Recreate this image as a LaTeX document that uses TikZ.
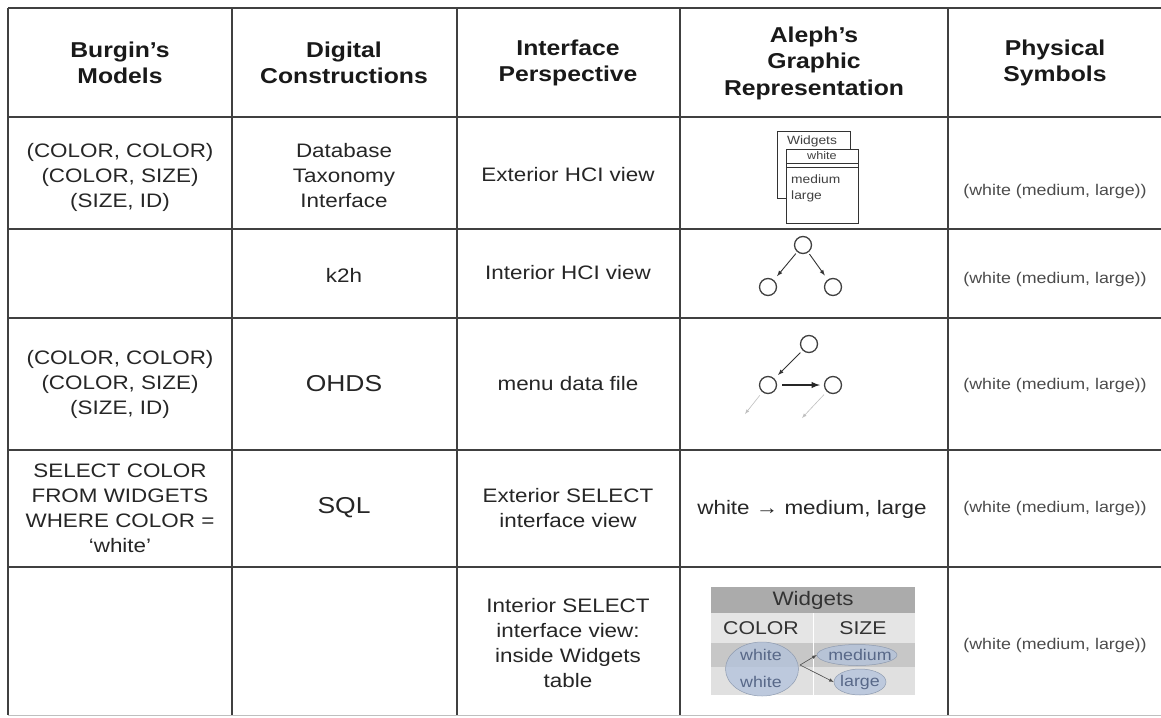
\documentclass[tikz,border=0pt]{standalone}
\usepackage{fontspec}
\setmainfont{Liberation Sans}[FakeStretch=1.15]
\usetikzlibrary{positioning, arrows, shapes.geometric}
\definecolor{blobfill}{RGB}{178,194,220}
\definecolor{blobtext}{RGB}{88,104,136}

\begin{document}
\begin{tikzpicture}[x=1pt, y=-1pt, >=latex,
    cell/.style={align=center, font=\fontsize{19.5}{25}\selectfont, text=black!85},
    hdr/.style={align=center, font=\fontsize{21.5}{26.5}\selectfont\bfseries, text=black!90},
    bigcell/.style={font=\fontsize{23}{26}\selectfont, text=black!85},
    phys/.style={font=\fontsize{15.5}{18}\selectfont, text=black!70},
    tabline/.style={line width=1.8pt, black!75},
    vtx/.style={draw=black!75, circle, line width=1.3pt, minimum size=17pt, inner sep=0pt},
    card/.style={draw=black!80, line width=0.8pt, fill=white},
    tiny/.style={font=\fontsize{12}{13}\selectfont, text=black!75, inner sep=0pt},
    wtab/.style={font=\fontsize{19.5}{21}\selectfont, text=black!80, inner sep=0pt},
    wval/.style={font=\fontsize{15.5}{17}\selectfont, text=blobtext, inner sep=0pt},
    blob/.style={fill=blobfill, fill opacity=0.75, draw=blobfill!80!black, line width=0.5pt}]

    \fill[white] (0,0) rectangle (1161,717);
    \useasboundingbox (0,0) rectangle (1161,717);

    % table rules
    \foreach \y in {8,117,229,318,450,567}
        \draw[tabline] (8,\y) -- (1161,\y);
    \foreach \x in {8,232,457,680,948}
        \draw[tabline] (\x,8) -- (\x,715);
    \draw[black!25, line width=1pt] (8,715) -- (1161,715);

    % header row
    \node[hdr] (hBM) at (120,63) {Burgin's\\Models};
    \node[hdr] (hDC) at (344,63) {Digital\\Constructions};
    \node[hdr] (hIP) at (568,63) {Interface\\Perspective};
    \node[hdr] (hAG) at (814,63) {Aleph's\\Graphic\\Representation};
    \node[hdr] (hPS) at (1055,63) {Physical\\Symbols};

    % Burgin's models
    \node[cell] (m1) at (120,177) {(COLOR, COLOR)\\(COLOR, SIZE)\\(SIZE, ID)};
    \node[cell] (m3) at (120,384) {(COLOR, COLOR)\\(COLOR, SIZE)\\(SIZE, ID)};
    \node[cell] (m4) at (120,508) {SELECT COLOR\\FROM WIDGETS\\WHERE COLOR =\\`white'};

    % digital constructions
    \node[cell] (d1) at (344,176) {Database\\Taxonomy\\Interface};
    \node[cell] (d2) at (344,275) {k2h};
    \node[bigcell] (d3) at (344,384) {OHDS};
    \node[bigcell] (d4) at (344,508) {SQL};

    % interface perspective
    \node[cell] (p1) at (568,175) {Exterior HCI view};
    \node[cell] (p2) at (568,273) {Interior HCI view};
    \node[cell] (p3) at (568,384) {menu data file};
    \node[cell] (p4) at (568,508) {Exterior SELECT\\interface view};
    \node[cell] (p5) at (568,643) {Interior SELECT\\interface view:\\inside Widgets\\table};

    % physical symbols
    \foreach \y [count=\i] in {191,279,385,508,645}
        \node[phys] (s\i) at (1055,\y) {(white (medium, large))};

    % graphic: stacked cards
    \draw[card] (777,131) rectangle (850,198);
    \node[tiny] (cw) at (812,141) {Widgets};
    \draw[card] (786,149) rectangle (858,223);
    \node[tiny, font=\fontsize{11}{12}\selectfont] (cv) at (822,156) {white};
    \draw[black!80, line width=0.8pt] (786,163) -- (858,163) (786,167) -- (858,167);
    \node[tiny, anchor=west] (cm) at (791,179) {medium};
    \node[tiny, anchor=west] (cl) at (791,196) {large};

    % graphic: k2h tree
    \node[vtx] (t1) at (803,245) {};
    \node[vtx] (t2) at (768,287) {};
    \node[vtx] (t3) at (833,287) {};
    \draw[->, black!80, line width=0.9pt, shorten >=5pt, shorten <=2pt] (t1) -- (t2);
    \draw[->, black!80, line width=0.9pt, shorten >=5pt, shorten <=2pt] (t1) -- (t3);

    % graphic: OHDS
    \node[vtx] (u1) at (809,344) {};
    \node[vtx] (u2) at (768,385) {};
    \node[vtx] (u3) at (833,385) {};
    \coordinate (u4) at (745,414);
    \coordinate (u5) at (802,418);
    \draw[->, black!80, line width=0.9pt, shorten >=5pt, shorten <=3pt] (u1) -- (u2);
    \draw[->, black!85, line width=1.8pt, shorten >=4pt, shorten <=5pt] (u2) -- (u3);
    \draw[->, black!25, line width=0.6pt, shorten <=4pt] (u2) -- (u4);
    \draw[->, black!25, line width=0.6pt, shorten <=4pt] (u3) -- (u5);

    % graphic: SQL
    \node[cell] (a4) at (812,509) {white \textrightarrow\ medium, large};

    % graphic: Widgets table
    \fill[black!33] (711,587) rectangle (915,613);
    \fill[black!10] (711,613) rectangle (915,643);
    \fill[black!22] (711,643) rectangle (915,667);
    \fill[black!12] (711,667) rectangle (915,695);
    \draw[white, line width=0.8pt] (813,613) -- (813,695);
    \node[wtab] (wt) at (813,600) {Widgets};
    \node[wtab, font=\fontsize{18.5}{20}\selectfont] (wc) at (761,628) {COLOR};
    \node[wtab, font=\fontsize{18.5}{20}\selectfont] (ws) at (863,628) {SIZE};
    \node[blob, ellipse, minimum width=73pt, minimum height=54pt] (ew) at (762,669) {};
    \node[blob, ellipse, minimum width=80pt, minimum height=21pt] (em) at (857,655) {};
    \node[blob, ellipse, minimum width=52pt, minimum height=26pt] (el) at (860,682) {};
    \node[wval] (w1) at (761,655) {white};
    \node[wval] (w2) at (761,682) {white};
    \node[wval] (w3) at (860,655) {medium};
    \node[wval] (w4) at (860,682) {large};
    \coordinate (eo) at (800,665);
    \draw[->, black!70, line width=0.6pt] (eo) -- (em.west);
    \draw[->, black!70, line width=0.6pt] (eo) -- (el.west);

\end{tikzpicture}
\end{document}
